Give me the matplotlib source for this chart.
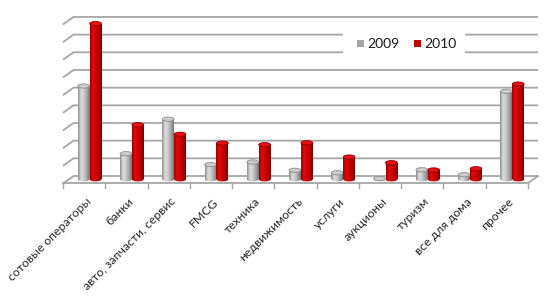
import numpy as np
import matplotlib
matplotlib.use("Agg")
import matplotlib.pyplot as plt
from matplotlib.patches import Ellipse, Rectangle
from matplotlib.colors import to_rgb

categories = ["сотовые операторы", "банки", "авто, запчасти, сервис", "FMCG", "техника",
              "недвижимость", "услуги", "аукционы", "туризм", "все для дома", "прочее"]
series_names = ["2009", "2010"]
values_2009 = [5.28, 1.45, 3.40, 0.83, 0.98, 0.51, 0.37, 0.04, 0.54, 0.26, 4.98]
values_2010 = [8.81, 3.09, 2.55, 2.05, 1.96, 2.07, 1.26, 0.94, 0.53, 0.60, 5.39]
n_grid = 9

W, H = 550, 304
fig = plt.figure(figsize=(W / 100, H / 100), dpi=100)
ax = fig.add_axes([0, 0, 1, 1])
ax.set_axis_off()

# pixel -> data mapping
cat_w = 42.27
x_left_px = 63.0
unit_px = 17.67
base_py = 179.3
def px_x(px):
    return -0.5 + (px - x_left_px) / cat_w
def py_y(py):
    return (base_py - py) / unit_px

xlim = (px_x(0), px_x(W))
ylim = (py_y(H), py_y(0))

font = ["Lato", "DejaVu Sans"]
grid_col = "#a6a6a6"

# back wall grid with depth offset
dx = px_x(73.5) - px_x(63)
dy = 7.5 / unit_px
back0 = py_y(176)
x_back_right = px_x(538)
for i in range(n_grid + 1):
    yb = back0 + i
    ax.plot([-0.5, -0.5 + dx, x_back_right], [yb - dy, yb, yb],
            color=grid_col, lw=1.3, zorder=1, solid_capstyle="butt")
# floor front edge
yf = py_y(183)
n = len(categories)
ax.plot([-0.5, n - 0.5, x_back_right], [yf, yf, back0], color=grid_col, lw=1.3, zorder=1)
tick_len = 5 / unit_px
for k in range(n + 1):
    ax.plot([-0.5 + k, -0.5 + k], [yf, yf - tick_len], color=grid_col, lw=1.0, zorder=1)

# cylinders
def grad_colors(kind):
    if kind == 0:
        stops = [(0.0, "#8e8e8e"), (0.25, "#dadada"), (0.45, "#d2d2d2"), (0.8, "#9e9e9e"), (1.0, "#727272")]
    else:
        stops = [(0.0, "#9a0000"), (0.25, "#e00c0c"), (0.5, "#d00000"), (0.8, "#aa0000"), (1.0, "#7a0000")]
    xs = np.linspace(0, 1, 64)
    pos = [s[0] for s in stops]
    cols = np.array([to_rgb(s[1]) for s in stops])
    arr = np.stack([np.interp(xs, pos, cols[:, c]) for c in range(3)], axis=-1)
    return arr[np.newaxis, :, :]

top_cols = ["#cccccc", "#e81010"]
rim_cols = ["#8c8c8c", "#8a0000"]
bw = 0.28
shift = 0.13
ell_h = 4.2 / unit_px
x = np.arange(n)
for s, vals in enumerate([values_2009, values_2010]):
    xc = x + shift + (s - 0.5) * bw
    bars = ax.bar(xc, vals, width=bw, color="none", edgecolor="none", zorder=3 + s)
    img_arr = grad_colors(s)
    for xi, h, b in zip(xc, vals, bars):
        x0, x1 = xi - bw / 2, xi + bw / 2
        im = ax.imshow(img_arr, extent=(x0, x1, -ell_h, h), aspect="auto",
                       interpolation="bilinear", zorder=3 + s)
        im.set_clip_path(b)
        bot = Ellipse((xi, 0), bw, ell_h, facecolor="none", edgecolor="none", zorder=3 + s)
        ax.add_patch(bot)
        im2 = ax.imshow(img_arr, extent=(x0, x1, -ell_h, h), aspect="auto",
                        interpolation="bilinear", zorder=3 + s)
        im2.set_clip_path(bot)
        top = Ellipse((xi, h), bw, ell_h, facecolor=top_cols[s], edgecolor=rim_cols[s],
                      lw=0.6, zorder=3.5 + s)
        ax.add_patch(top)

# category labels
lab_y = py_y(196)
for i, c in enumerate(categories):
    ax.text(i + 0.03, lab_y, c, rotation=45, rotation_mode="anchor", ha="right", va="top",
            fontsize=8.8, family=font, color="#262626", zorder=6)

# legend
ax.add_patch(Rectangle((px_x(343), py_y(55)), px_x(465) - px_x(343), py_y(31) - py_y(55),
                       facecolor="white", edgecolor="none", zorder=2))
leg_cols = ["#a6a6a6", "#c00000"]
leg_sq_x = [357, 414]
for s in range(2):
    sx = px_x(leg_sq_x[s])
    ax.add_patch(Rectangle((sx, py_y(46.5)), px_x(leg_sq_x[s] + 6.5) - sx, py_y(40) - py_y(46.5),
                           facecolor=leg_cols[s], edgecolor="none", zorder=6))
    ax.text(px_x(leg_sq_x[s] + 10), py_y(43.5), series_names[s], ha="left", va="center",
            fontsize=10, family=font, color="#1a1a1a", zorder=6)

ax.set_xlim(*xlim)
ax.set_ylim(*ylim)
fig.savefig("out.png", dpi=100, facecolor="white")
